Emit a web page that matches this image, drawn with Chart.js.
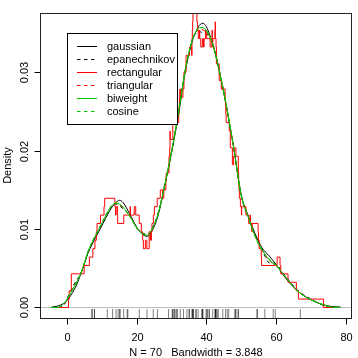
<!DOCTYPE html>
<html>
<head>
<meta charset="utf-8">
<script src="https://cdn.jsdelivr.net/npm/chart.js@4.4.0/dist/chart.umd.min.js"></script>
<style>
html, body { margin: 0; padding: 0; background: #fff; }
canvas { display: block; }
</style>
</head>
<body>
<canvas id="densityChart" width="358" height="358"></canvas>
<script>
// annual precipitation, 70 US cities (sorted) - drawn as the rug
var precip = [7.0, 7.2, 7.8, 7.8, 11.5, 13.0, 14.0, 14.6, 15.0, 15.2, 16.2, 17.2, 17.4, 20.7, 22.9,
	24.7, 25.9, 29.1, 30.2, 30.2, 30.6, 30.8, 31.0, 31.4, 31.7, 32.5, 33.4, 34.4, 35.0, 35.1,
	35.9, 35.9, 36.1, 36.2, 36.2, 37.0, 37.0, 37.6, 38.7, 38.8, 38.9, 39.0, 39.9, 40.2, 40.2,
	40.8, 40.8, 41.8, 42.5, 42.5, 42.6, 42.7, 42.8, 43.1, 43.4, 44.7, 45.5, 46.0, 46.4, 48.2,
	48.3, 48.5, 49.1, 49.2, 54.5, 54.7, 56.8, 59.2, 59.8, 67.0];

// x positions where the smooth curves were read
var gridX = [-4.54, -3, -1, 0, 2, 4, 6, 8, 10, 12, 13, 14, 15, 16, 18, 20, 22, 23, 24, 26,
	28, 30, 32, 34, 36, 37, 38, 39, 40, 41, 42, 44, 46, 48, 50, 52, 54, 56, 58, 60,
	62, 64, 66, 68, 70, 72, 74, 76, 78.54];

var gaussian = [0.00005, 0.00016, 0.00055, 0.00097, 0.0023, 0.0044, 0.0070, 0.0088, 0.0105, 0.0122,
	0.0129, 0.0134, 0.01367, 0.0134, 0.01187, 0.0102, 0.0092, 0.00908, 0.0095, 0.0116,
	0.0155, 0.0198, 0.0247, 0.0303, 0.0341, 0.0352, 0.0360, 0.03625, 0.0358, 0.0347,
	0.0333, 0.0295, 0.0250, 0.0200, 0.0144, 0.0117, 0.0094, 0.0076, 0.0066, 0.0055,
	0.0042, 0.0031, 0.0022, 0.0015, 0.0010, 0.0006, 0.0003, 0.00013, 0.00005];

var epanechnikov = [0, 0, 0.0003, 0.00123, 0.0030, 0.0045, 0.0071, 0.0091, 0.0108, 0.0125,
	0.0130, 0.0132, 0.0130, 0.0126, 0.0117, 0.0101, 0.0094, 0.0093, 0.0098, 0.0119,
	0.0156, 0.0199, 0.0250, 0.0305, 0.0341, 0.0350, 0.0352, 0.0350, 0.0349, 0.0344,
	0.0334, 0.0297, 0.0251, 0.0198, 0.0142, 0.0116, 0.0093, 0.0074, 0.0057, 0.0055,
	0.0044, 0.0033, 0.0023, 0.0016, 0.0011, 0.0006, 0.0002, 0, 0];

var triangular = [0, 0, 0.0004, 0.0011, 0.0028, 0.0045, 0.0071, 0.0091, 0.0108, 0.0125,
	0.0131, 0.0133, 0.0131, 0.0127, 0.0117, 0.0101, 0.0093, 0.0092, 0.0097, 0.0118,
	0.0156, 0.0200, 0.0249, 0.0305, 0.0342, 0.0351, 0.0355, 0.0354, 0.0351, 0.0345,
	0.0333, 0.0296, 0.0251, 0.0199, 0.0143, 0.0116, 0.0091, 0.0073, 0.0060, 0.0054,
	0.0043, 0.0032, 0.0022, 0.0015, 0.0010, 0.0006, 0.0003, 0.00003, 0];

var biweight = [0, 0, 0.0005, 0.00114, 0.0027, 0.0045, 0.0072, 0.0091, 0.0108, 0.0125,
	0.0131, 0.0133, 0.0132, 0.0128, 0.0116, 0.0101, 0.0093, 0.0092, 0.0097, 0.0118,
	0.0156, 0.0200, 0.0249, 0.0305, 0.0342, 0.0352, 0.0357, 0.0357, 0.0353, 0.0345,
	0.0333, 0.0296, 0.0251, 0.0199, 0.0143, 0.0116, 0.0091, 0.0074, 0.0061, 0.0054,
	0.0043, 0.0032, 0.0022, 0.0015, 0.0010, 0.0006, 0.0003, 0.00005, 0];

var cosine = [0, 0, 0.0005, 0.0011, 0.0027, 0.0045, 0.0072, 0.0091, 0.0108, 0.0125,
	0.0131, 0.0133, 0.0132, 0.0128, 0.0116, 0.0101, 0.0093, 0.0092, 0.0097, 0.0118,
	0.0156, 0.0200, 0.0249, 0.0305, 0.0342, 0.0352, 0.0357, 0.0357, 0.0353, 0.0345,
	0.0333, 0.0296, 0.0251, 0.0199, 0.0143, 0.0116, 0.0090, 0.0073, 0.0062, 0.0054,
	0.0043, 0.0032, 0.0022, 0.0015, 0.0010, 0.0006, 0.0003, 0.00005, 0];

// rectangular kernel: value holds from rectX[i] up to rectX[i+1]
var rectX = [-4.544, 0.335, 0.535, 1.135, 4.835, 6.335, 7.335, 7.935, 8.335, 8.535,
	9.535, 10.535, 10.735, 13.665, 13.865, 14.035, 14.465, 16.235, 18.035, 18.165,
	19.235, 19.665, 20.665, 21.265, 21.665, 21.865, 22.435, 22.865, 23.535, 23.865,
	23.935, 24.065, 24.135, 24.335, 24.735, 25.035, 25.835, 26.735, 27.365, 27.735,
	28.335, 28.435, 29.235, 29.435, 29.535, 29.565, 30.335, 30.935, 31.365, 32.035,
	32.135, 32.235, 32.335, 32.565, 33.235, 33.535, 34.135, 35.135, 35.765, 35.835,
	35.935, 36.035, 36.135, 36.435, 36.735, 36.865, 37.265, 37.465, 37.665, 38.035,
	38.065, 38.365, 38.835, 39.165, 39.335, 39.735, 40.065, 41.065, 41.535, 41.635,
	41.665, 41.765, 41.835, 42.435, 42.535, 42.565, 42.765, 42.865, 43.665, 44.265,
	45.365, 45.465, 45.565, 45.665, 46.565, 46.865, 47.465, 47.835, 48.035, 48.465,
	49.165, 49.265, 49.365, 49.465, 49.765, 50.065, 50.135, 51.365, 52.165, 52.535,
	52.665, 53.065, 53.135, 54.865, 54.965, 55.165, 55.765, 55.865, 60.335, 61.165,
	61.365, 63.465, 65.865, 66.465, 73.665, 78.544];
var rectangular = [0, 0.00107, 0.00214, 0.00429, 0.00536, 0.00643, 0.0075, 0.00857, 0.00965, 0.01072,
	0.01179, 0.01286, 0.01393, 0.01286, 0.01179, 0.01286, 0.01072, 0.01179, 0.01286, 0.01179,
	0.01286, 0.01179, 0.01072, 0.00965, 0.00857, 0.0075, 0.00857, 0.0075, 0.00965, 0.00857,
	0.00965, 0.00857, 0.00965, 0.01072, 0.01179, 0.01286, 0.01393, 0.015, 0.01393, 0.015,
	0.01608, 0.01715, 0.01929, 0.02036, 0.02251, 0.02143, 0.02358, 0.02465, 0.02358, 0.02465,
	0.02572, 0.02679, 0.02786, 0.02679, 0.02786, 0.03001, 0.03215, 0.03322, 0.03215, 0.03429,
	0.03537, 0.03644, 0.03751, 0.03858, 0.03965, 0.03751, 0.03644, 0.03537, 0.03429, 0.03537,
	0.03429, 0.03322, 0.03429, 0.03322, 0.03429, 0.03537, 0.03429, 0.03322, 0.03429, 0.03537,
	0.03429, 0.03322, 0.03429, 0.03537, 0.03644, 0.03429, 0.03322, 0.03108, 0.02894, 0.02786,
	0.02679, 0.02572, 0.02465, 0.02358, 0.02251, 0.02036, 0.01822, 0.01929, 0.02036, 0.01929,
	0.01715, 0.01608, 0.015, 0.01393, 0.01286, 0.01179, 0.01286, 0.01179, 0.01072, 0.01179,
	0.01072, 0.00965, 0.01072, 0.00965, 0.00857, 0.0075, 0.00643, 0.00536, 0.00643, 0.00536,
	0.00429, 0.00322, 0.00214, 0.00107, 0, 0];

var kernels = ['gaussian', 'epanechnikov', 'rectangular', 'triangular', 'biweight', 'cosine'];
var xTicks = [0, 20, 40, 60, 80];
var yTicks = [0, 0.01, 0.02, 0.03];
var yTickLabels = ['0.00', '0.01', '0.02', '0.03'];
var xTitle = 'N = 70   Bandwidth = 3.848';
var yTitle = 'Density';

var FONT = '11px "Liberation Sans", Arial, Helvetica, sans-serif';
var DASH = [3.5, 3.5];

function points(xs, ys) {
	var out = [];
	for (var i = 0; i < xs.length; i++) out.push({x: xs[i], y: ys[i]});
	return out;
}

function kernelLine(name, xs, ys, color, dashed, order) {
	return {
		label: name,
		data: points(xs, ys),
		borderColor: color,
		borderWidth: 1,
		borderDash: dashed ? DASH : [],
		pointRadius: 0,
		fill: false,
		cubicInterpolationMode: 'monotone',
		order: order
	};
}

var rectLine = kernelLine(kernels[2], rectX, rectangular, '#FF0000', false, 4);
rectLine.stepped = true;
rectLine.cubicInterpolationMode = 'default';

// R style: box, outward ticks, rotated y labels, rug, zero line, legend
var rPlot = {
	id: 'rPlot',
	beforeDatasetsDraw: function(chart) {
		var ctx = chart.ctx, a = chart.chartArea;
		var y0 = Math.round(chart.scales.y.getPixelForValue(0)) + 0.5;
		ctx.save();
		ctx.strokeStyle = '#BEBEBE';
		ctx.lineWidth = 1;
		ctx.beginPath();
		ctx.moveTo(a.left, y0);
		ctx.lineTo(a.right, y0);
		ctx.stroke();
		ctx.restore();
	},
	afterDatasetsDraw: function(chart) {
		var ctx = chart.ctx, a = chart.chartArea;
		var xs = chart.scales.x, ys = chart.scales.y;
		var i, p;
		ctx.save();

		// rug
		ctx.strokeStyle = 'rgba(0,0,0,0.5)';
		ctx.lineWidth = 1;
		for (i = 0; i < precip.length; i++) {
			p = xs.getPixelForValue(precip[i]);
			ctx.beginPath();
			ctx.moveTo(p, a.bottom);
			ctx.lineTo(p, a.bottom - 9);
			ctx.stroke();
		}

		// box
		ctx.strokeStyle = '#222';
		ctx.strokeRect(a.left + 0.5, a.top + 0.5, a.right - a.left - 1, a.bottom - a.top);

		ctx.strokeStyle = '#000';
		ctx.fillStyle = '#000';
		ctx.font = FONT;

		// x axis
		ctx.textAlign = 'center';
		ctx.textBaseline = 'alphabetic';
		for (i = 0; i < xTicks.length; i++) {
			p = Math.round(xs.getPixelForValue(xTicks[i])) + 0.5;
			ctx.beginPath();
			ctx.moveTo(p, a.bottom + 0.5);
			ctx.lineTo(p, a.bottom + 6.5);
			ctx.stroke();
			ctx.fillText(String(xTicks[i]), p, a.bottom + 22.5);
		}
		ctx.fillText(xTitle, (a.left + a.right) / 2, a.bottom + 37.5);

		// y axis
		for (i = 0; i < yTicks.length; i++) {
			p = Math.round(ys.getPixelForValue(yTicks[i])) + 0.5;
			ctx.beginPath();
			ctx.moveTo(a.left + 0.5, p);
			ctx.lineTo(a.left - 5.5, p);
			ctx.stroke();
			ctx.save();
			ctx.translate(a.left - 12.5, p);
			ctx.rotate(-Math.PI / 2);
			ctx.fillText(yTickLabels[i], 0, 0);
			ctx.restore();
		}
		ctx.save();
		ctx.translate(11, (a.top + a.bottom) / 2);
		ctx.rotate(-Math.PI / 2);
		ctx.fillText(yTitle, 0, 0);
		ctx.restore();

		// legend
		var lx = 67.5, ly = 33.5, lw = 110, lh = 91;
		ctx.fillStyle = '#fff';
		ctx.fillRect(lx, ly, lw, lh);
		ctx.strokeStyle = '#000';
		ctx.strokeRect(lx, ly, lw, lh);
		ctx.textAlign = 'left';
		ctx.textBaseline = 'middle';
		var ds = chart.data.datasets;
		for (i = 0; i < kernels.length; i++) {
			var y = Math.round(46 + i * 13.05) + 0.5;
			ctx.strokeStyle = ds[i].borderColor;
			ctx.setLineDash(ds[i].borderDash);
			ctx.beginPath();
			ctx.moveTo(77, y);
			ctx.lineTo(97, y);
			ctx.stroke();
			ctx.setLineDash([]);
			ctx.fillStyle = '#000';
			ctx.fillText(ds[i].label, 107, y + 0.5);
		}
		ctx.restore();
	}
};

var ctx = document.getElementById('densityChart');
var densityChart = new Chart(ctx, {
	type: 'line',
	data: {
		datasets: [
			kernelLine(kernels[0], gridX, gaussian, '#000000', false, 6),
			kernelLine(kernels[1], gridX, epanechnikov, '#000000', true, 5),
			rectLine,
			kernelLine(kernels[3], gridX, triangular, '#FF0000', true, 3),
			kernelLine(kernels[4], gridX, biweight, '#00CD00', false, 2),
			kernelLine(kernels[5], gridX, cosine, '#00CD00', true, 1)
		]
	},
	options: {
		responsive: false,
		devicePixelRatio: 1,
		animation: false,
		layout: { padding: { left: 40, top: 13, right: 6, bottom: 40 } },
		plugins: { legend: { display: false }, tooltip: { enabled: false } },
		scales: {
			x: { type: 'linear', min: -7.868, max: 81.868, display: false },
			y: { type: 'linear', min: -0.00134, max: 0.03756, display: false }
		}
	},
	plugins: [rPlot]
});
</script>
</body>
</html>
